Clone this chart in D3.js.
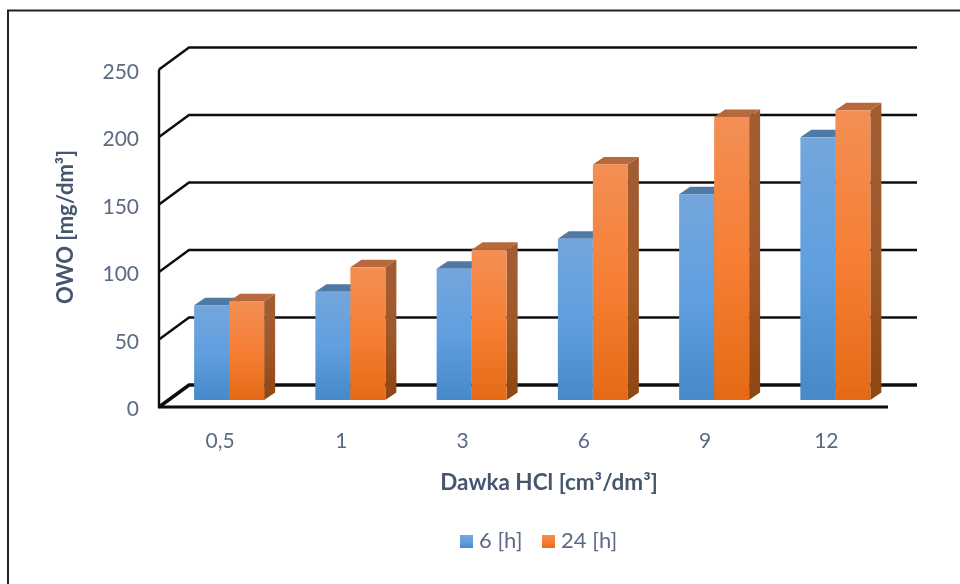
<!DOCTYPE html>
<html>
<head>
<meta charset="utf-8">
<script src="https://cdn.jsdelivr.net/npm/d3@7"></script>
<style>
  html, body { margin: 0; padding: 0; background: #fff; }
  svg { display: block; }
  text { font-family: Lato, 'Open Sans', sans-serif; }
</style>
</head>
<body>
<svg id="chart" width="960" height="584"></svg>
<script>
  // Chart data
  const categories = ['0,5', '1', '3', '6', '9', '12'];
  const seriesNames = ['6 [h]', '24 [h]'];
  const values6h = [70, 80, 97, 119, 152, 194];
  const values24h = [73, 98, 111, 174, 209, 214];
  const yTicks = [0, 50, 100, 150, 200, 250];

  const svg = d3.select('#chart');

  // Depth of the 3D box
  const wallDx = 30, wallDy = -22;
  const barDx = 11, barDy = -7.5;

  const x = d3.scaleBand().domain(categories).range([160.5, 888]);
  const yFront = d3.scaleLinear().domain([0, 250]).range([407, 69.5]);
  const barLen = d3.scaleLinear().domain([0, 250]).range([0, 338.5]);
  const barBase = 400;
  const barWidth = 35;
  const barShift = 8;

  // Gradients
  const defs = svg.append('defs');
  function gradient(id, stops) {
    const g = defs.append('linearGradient').attr('id', id)
      .attr('x1', 0).attr('y1', 0).attr('x2', 0).attr('y2', 1);
    stops.forEach(function (s, i) {
      g.append('stop').attr('offset', i / (stops.length - 1)).attr('stop-color', s);
    });
  }
  gradient('blueFront', ['#74a6dc', '#609fe0', '#4689c9']);
  gradient('orangeFront', ['#f38f55', '#f67f34', '#e56a17']);
  gradient('orangeSide', ['#a35c33', '#a0592a', '#8f4510']);
  gradient('blueSide', ['#4a7096', '#3f6c99', '#33618c']);

  const soft = defs.append('filter').attr('id', 'soft')
    .attr('filterUnits', 'userSpaceOnUse')
    .attr('x', 0).attr('y', 0).attr('width', 960).attr('height', 584);
  soft.append('feGaussianBlur').attr('stdDeviation', 0.45);

  const root = svg.append('g').attr('filter', 'url(#soft)');

  // Outer frame
  root.append('path')
    .attr('d', 'M8,584V10.5H960')
    .attr('fill', 'none')
    .attr('stroke', '#222')
    .attr('stroke-width', 2);

  const plot = root.append('g');

  // Walls and gridlines
  const rightEnd = 917;
  yTicks.forEach(function (t) {
    const y = yFront(t);
    plot.append('path')
      .attr('d', d3.line()([[159, y], [159 + wallDx, y + wallDy], [rightEnd, y + wallDy]]))
      .attr('fill', 'none')
      .attr('stroke', '#0a0a0a')
      .attr('stroke-width', t === 0 ? 3.5 : 2.4);
  });
  plot.append('line')
    .attr('x1', 159).attr('x2', 159)
    .attr('y1', yFront(250)).attr('y2', yFront(0) + 1)
    .attr('stroke', '#0a0a0a').attr('stroke-width', 2.4);
  plot.append('line')
    .attr('x1', 158).attr('x2', 888)
    .attr('y1', yFront(0)).attr('y2', yFront(0))
    .attr('stroke', '#0a0a0a').attr('stroke-width', 3.2);

  // Bars
  function drawBar(x0, v, front, top, side) {
    const h = barLen(v);
    const yt = barBase - h;
    const x1 = x0 + barWidth;
    plot.append('path')
      .attr('d', d3.line()([[x1, yt], [x1 + barDx, yt + barDy], [x1 + barDx, barBase + barDy], [x1, barBase]]) + 'Z')
      .attr('fill', 'url(#' + side + ')');
    plot.append('path')
      .attr('d', d3.line()([[x0, yt], [x0 + barDx, yt + barDy], [x1 + barDx, yt + barDy], [x1, yt]]) + 'Z')
      .attr('fill', top);
    plot.append('rect')
      .attr('x', x0).attr('y', yt)
      .attr('width', barWidth).attr('height', h)
      .attr('fill', 'url(#' + front + ')');
  }

  categories.forEach(function (c, i) {
    const x0 = x(c) + x.bandwidth() / 2 + barShift - barWidth;
    drawBar(x0, values6h[i], 'blueFront', '#4f7aa6', 'blueSide');
    drawBar(x0 + barWidth, values24h[i], 'orangeFront', '#b8683c', 'orangeSide');
  });

  // Tick labels
  const textColor = '#5b6b84';
  root.selectAll('.ytick').data(yTicks).enter().append('text')
    .attr('class', 'ytick')
    .attr('x', 139)
    .attr('y', function (d) { return yFront(d) + 1.5; })
    .attr('dy', '0.36em')
    .attr('text-anchor', 'end')
    .attr('font-size', 21)
    .attr('fill', textColor)
    .text(function (d) { return d; });

  root.selectAll('.xtick').data(categories).enter().append('text')
    .attr('class', 'xtick')
    .attr('x', function (d) { return x(d) + x.bandwidth() / 2 - 1; })
    .attr('y', 448)
    .attr('text-anchor', 'middle')
    .attr('font-size', 21)
    .attr('fill', textColor)
    .text(function (d) { return d; });

  // Axis titles
  root.append('text')
    .attr('x', 549).attr('y', 490)
    .attr('text-anchor', 'middle')
    .attr('font-size', 22.5).attr('font-weight', 700)
    .attr('fill', '#46566e')
    .text('Dawka HCl [cm³/dm³]');

  root.append('text')
    .attr('transform', 'translate(73,227) rotate(-90)')
    .attr('text-anchor', 'middle')
    .attr('font-size', 22).attr('font-weight', 700)
    .attr('fill', '#46566e')
    .text('OWO [mg/dm³]');

  // Legend
  const legendX = [460, 542];
  const legendColors = ['url(#blueFront)', 'url(#orangeFront)'];
  seriesNames.forEach(function (name, i) {
    root.append('rect')
      .attr('x', legendX[i]).attr('y', 535)
      .attr('width', 13).attr('height', 13)
      .attr('fill', legendColors[i]);
    root.append('text')
      .attr('x', legendX[i] + 19).attr('y', 548)
      .attr('font-size', 22)
      .attr('fill', textColor)
      .text(name);
  });
</script>
</body>
</html>
